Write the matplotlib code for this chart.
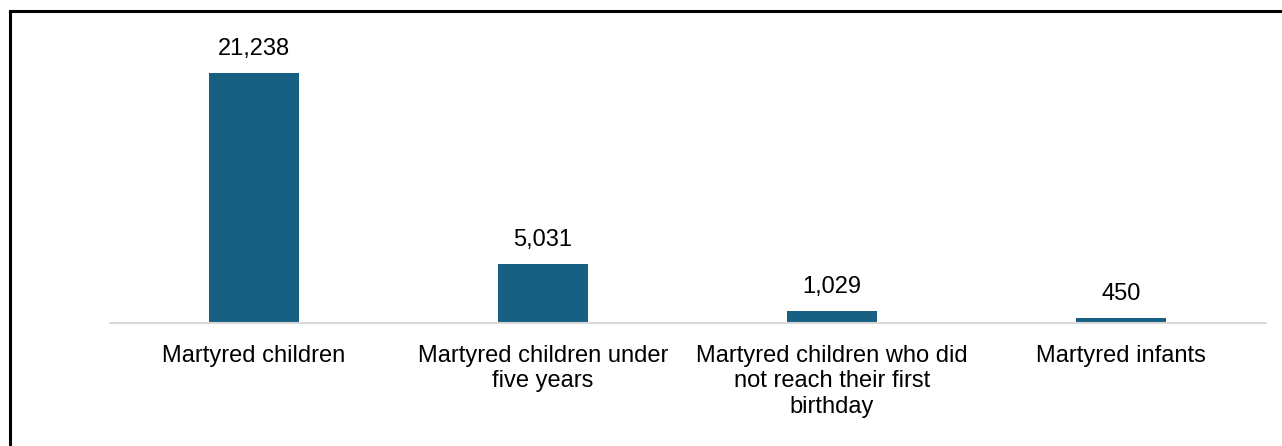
import matplotlib.pyplot as plt
from matplotlib.lines import Line2D

categories = [
    "Martyred children",
    "Martyred children under\nfive years",
    "Martyred children who did\nnot reach their first\nbirthday",
    "Martyred infants",
]
values = [21238, 5031, 1029, 450]

plt.rcParams['font.family'] = ['Liberation Sans', 'DejaVu Sans']

W, H = 1282, 446
fig = plt.figure(figsize=(W / 100, H / 100), dpi=100)
ax = fig.add_axes([109.5 / W, (H - 323) / H, (1265.5 - 109.5) / W, (323 - 20) / H])

x = range(len(values))
bars = ax.bar(x, values, width=0.31, color='#176083', zorder=2)
ax.set_xlim(-0.5, len(values) - 0.5)
ax.set_ylim(0, 25740)

for b, v in zip(bars, values):
    ax.annotate(f"{v:,}", (b.get_x() + b.get_width() / 2, v), xytext=(0, 9),
                textcoords='offset points', ha='center', va='bottom', fontsize=17)

ax.set_xticks(list(x))
ax.set_xticklabels(categories, fontsize=17, linespacing=1.22)
ax.tick_params(axis='x', length=0, pad=15.5)
ax.set_yticks([])
for s in ['top', 'right', 'left']:
    ax.spines[s].set_visible(False)
ax.spines['bottom'].set_color('#d9d9d9')
ax.spines['bottom'].set_linewidth(1.5)

# frame on left and top edges
fig.add_artist(Line2D([10 / W, 10 / W], [0, 1 - 11 / H], color='black', lw=2.2, transform=fig.transFigure))
fig.add_artist(Line2D([10 / W, 1], [1 - 11 / H, 1 - 11 / H], color='black', lw=2.2, transform=fig.transFigure))

fig.savefig('out.png', dpi=100)
